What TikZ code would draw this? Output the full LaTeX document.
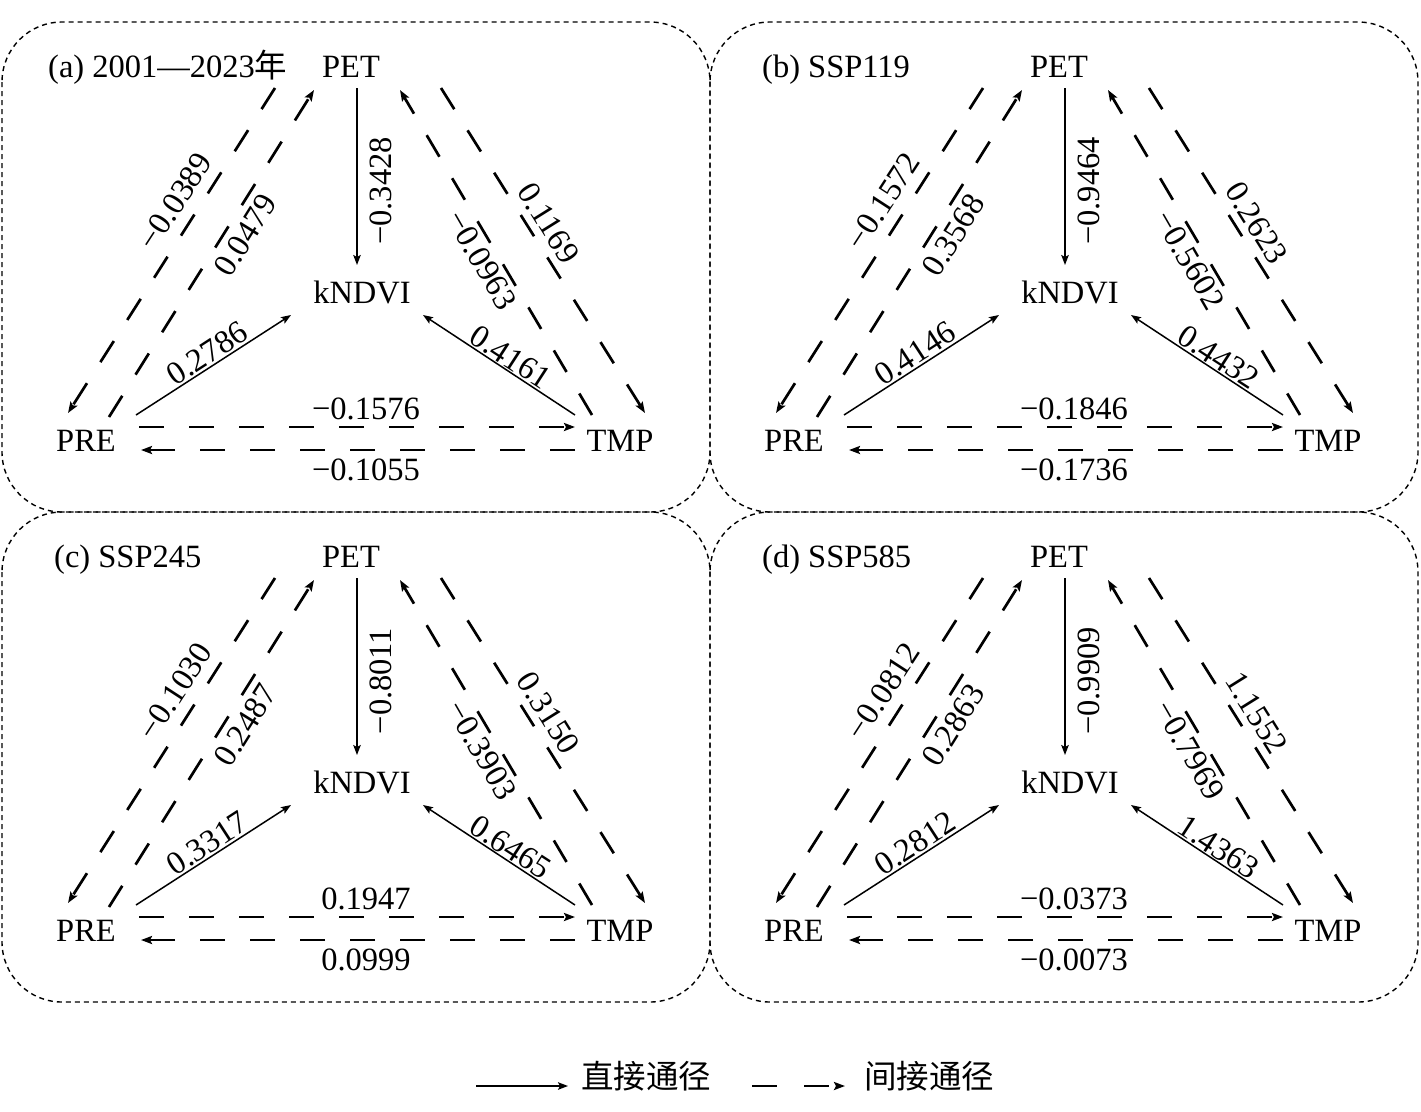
\documentclass[tikz,border=0pt]{standalone}
\usepackage{fontspec}
\setmainfont{Liberation Serif}
\newfontfamily\cjk{Noto Sans CJK SC}
\usetikzlibrary{arrows.meta,calc}
\begin{document}
\begin{tikzpicture}[x=1pt,y=-1pt,
  every node/.style={font=\fontsize{32.5}{39}\selectfont, inner sep=0pt, text height=22pt, text depth=0pt},
  direct/.style={line width=1.5pt, -{Stealth[length=10pt,width=7.5pt,inset=2pt]}},
  indirect/.style={line width=2.7pt, dash pattern=on 25pt off 25pt, -{Stealth[length=11pt,width=8pt,inset=2pt]}},
  panelbox/.style={line width=1.4pt, dash pattern=on 5pt off 4pt, rounded corners=60pt},
]
\useasboundingbox (0,0) rectangle (1421,1111);
\foreach \dx/\dy/\p/\ttl/\tx/\va/\vb/\vc/\vd/\ve/\vf/\vg/\vh/\vi in {
 0/0/a/{(a) 2001—2023{\cjk 年}}/48/−0.3428/0.2786/0.4161/−0.0389/0.0479/−0.0963/0.1169/−0.1576/−0.1055,
 708/0/b/{(b) SSP119}/54/−0.9464/0.4146/0.4432/−0.1572/0.3568/−0.5602/0.2623/−0.1846/−0.1736,
 0/490/c/{(c) SSP245}/54/−0.8011/0.3317/0.6465/−0.1030/0.2487/−0.3903/0.3150/0.1947/0.0999,
 708/490/d/{(d) SSP585}/54/−0.9909/0.2812/1.4363/−0.0812/0.2863/−0.7969/1.1552/−0.0373/−0.0073}
{
 \draw[panelbox] (2+\dx,22+\dy) rectangle (710+\dx,512+\dy);
 \node[anchor=west] (\p-title) at (\tx+\dx,66+\dy) {\ttl};
 \node (\p-PET) at (351+\dx,66+\dy) {PET};
 \node (\p-K) at (362+\dx,292+\dy) {kNDVI};
 \node (\p-PRE) at (86+\dx,440+\dy) {PRE};
 \node (\p-TMP) at (620+\dx,440+\dy) {TMP};
 % direct paths
 \draw[direct] ($(\p-PET)+(6,22)$) -- ($(\p-K)+(-5,-27)$);
 \draw[direct] ($(\p-PRE)+(50,-25)$) -- ($(\p-K)+(-71,23)$);
 \draw[direct] ($(\p-TMP)+(-45,-25)$) -- ($(\p-K)+(61,23)$);
 % indirect paths
 \draw[indirect] ($(\p-PET)+(-76,22)$) -- ($(\p-PRE)+(-18,-27)$);
 \draw[indirect] ($(\p-PRE)+(23,-23)$) -- ($(\p-PET)+(-37,24)$);
 \draw[indirect] ($(\p-TMP)+(-28,-25)$) -- ($(\p-PET)+(49,24)$);
 \draw[indirect] ($(\p-PET)+(90,22)$) -- ($(\p-TMP)+(25,-27)$);
 \draw[indirect] ($(\p-PRE)+(53,-13)$) -- ($(\p-TMP)+(-45,-13)$);
 \draw[indirect] ($(\p-TMP)+(-45,10)$) -- ($(\p-PRE)+(55,10)$);
 % labels
 \node[rotate=90] (\p-la) at (380+\dx,191+\dy) {\va};
 \node[rotate=33] (\p-lb) at (207+\dx,353+\dy) {\vb};
 \node[rotate=-33] (\p-lc) at (511+\dx,357+\dy) {\vc};
 \node[rotate=57] (\p-ld) at (175+\dx,201+\dy) {\vd};
 \node[rotate=58] (\p-le) at (245+\dx,235+\dy) {\ve};
 \node[rotate=-60] (\p-lf) at (482+\dx,260+\dy) {\vf};
 \node[rotate=-58] (\p-lg) at (549+\dx,223+\dy) {\vg};
 \node (\p-lh) at (366+\dx,408+\dy) {\vh};
 \node (\p-li) at (366+\dx,469+\dy) {\vi};
}
% legend
\coordinate (l1a) at (476,1086);
\coordinate (l1b) at (568,1086);
\draw[direct] (l1a) -- (l1b);
\node[anchor=west] (l1t) at (581,1077) {\cjk 直接通径};
\coordinate (l2a) at (752,1086);
\coordinate (l2b) at (845,1086);
\draw[indirect, dash pattern=on 25pt off 27pt] (l2a) -- (l2b);
\node[anchor=west] (l2t) at (864,1077) {\cjk 间接通径};
\end{tikzpicture}
\end{document}
